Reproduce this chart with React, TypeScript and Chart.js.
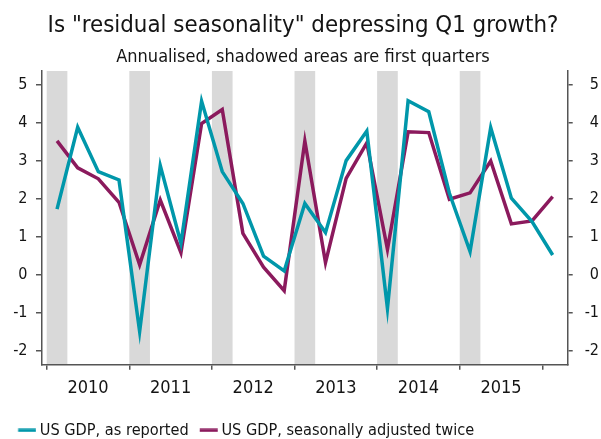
import React, { useEffect, useRef } from 'react';
import { Chart, registerables } from 'chart.js';

Chart.register(...registerables);

// ---- Data ----
const quarters = [
  '2010 Q1', '2010 Q2', '2010 Q3', '2010 Q4',
  '2011 Q1', '2011 Q2', '2011 Q3', '2011 Q4',
  '2012 Q1', '2012 Q2', '2012 Q3', '2012 Q4',
  '2013 Q1', '2013 Q2', '2013 Q3', '2013 Q4',
  '2014 Q1', '2014 Q2', '2014 Q3', '2014 Q4',
  '2015 Q1', '2015 Q2', '2015 Q3', '2015 Q4',
  '2016 Q1',
];
const asReported = [
  1.73, 3.89, 2.72, 2.5,
  -1.5, 2.88, 0.83, 4.58,
  2.72, 1.88, 0.49, 0.1,
  1.88, 1.11, 3.01, 3.79,
  -0.89, 4.59, 4.3, 2.15,
  0.61, 3.88, 2.02, 1.4,
  0.52,
];
const adjustedTwice = [
  3.53, 2.82, 2.53, 1.91,
  0.26, 1.97, 0.58, 3.99,
  4.36, 1.09, 0.2, -0.42,
  3.53, 0.32, 2.54, 3.48,
  0.67, 3.77, 3.75, 1.99,
  2.16, 3.0, 1.34, 1.42,
  2.06,
];
const yearLabels = ['2010', '2011', '2012', '2013', '2014', '2015'];
const shadedYears = [2010, 2011, 2012, 2013, 2014, 2015];
const yTickValues = [-2, -1, 0, 1, 2, 3, 4, 5];
const seriesNames = ['US GDP, as reported', 'US GDP, seasonally adjusted twice'];
const titleText = 'Is "residual seasonality" depressing Q1 growth?';
const subtitleText = 'Annualised, shadowed areas are first quarters';

// ---- Styles ----
const TEAL = '#0097aa';
const PURPLE = '#8b1a5d';
const SHADE = '#d9d9d9';
const AXIS = '#555555';
const TEXT = '#141414';
const FONT = "'DejaVu Sans Condensed', 'Liberation Sans Narrow', sans-serif";

const quarterToX = (q: string) => {
  const [y, qq] = q.split(' Q');
  return Number(y) + (Number(qq) - 0.5) / 4;
};

function legendMarker(color: string) {
  const c = document.createElement('canvas');
  c.width = 27;
  c.height = 4;
  const g = c.getContext('2d')!;
  g.fillStyle = color;
  g.fillRect(8.75, 0.35, 18, 3.3);
  return c;
}

const q1Shading = {
  id: 'q1Shading',
  beforeDraw(chart: any) {
    const { ctx, chartArea, scales } = chart;
    const x = scales.x;
    ctx.save();
    ctx.fillStyle = SHADE;
    for (const yr of shadedYears) {
      const x0 = x.getPixelForValue(yr);
      const x1 = x.getPixelForValue(yr + 0.25);
      ctx.fillRect(x0, chartArea.top, x1 - x0, chartArea.bottom - chartArea.top);
    }
    ctx.restore();
  },
};

export default function App() {
  const ref = useRef<HTMLCanvasElement | null>(null);

  useEffect(() => {
    if (!ref.current) return;
    const markers = [legendMarker(TEAL), legendMarker(PURPLE)];
    const yTicksBuilder = (s: any) => {
      s.ticks = yTickValues.map((v) => ({ value: v }));
    };
    const chart = new Chart(ref.current, {
      type: 'line',
      data: {
        datasets: [
          {
            label: seriesNames[0],
            data: quarters.map((q, i) => ({ x: quarterToX(q), y: asReported[i] })),
            borderColor: TEAL,
            backgroundColor: TEAL,
            borderWidth: 3.5,
            pointRadius: 0,
            tension: 0,
            fill: false,
          },
          {
            label: seriesNames[1],
            data: quarters.map((q, i) => ({ x: quarterToX(q), y: adjustedTwice[i] })),
            borderColor: PURPLE,
            backgroundColor: PURPLE,
            borderWidth: 3.5,
            pointRadius: 0,
            tension: 0,
            fill: false,
          },
        ],
      },
      options: {
        responsive: false,
        animation: false,
        events: [],
        layout: { padding: { left: 7, right: 2, top: 0, bottom: -9.5 } },
        plugins: {
          title: {
            display: true,
            text: titleText,
            color: TEXT,
            font: { family: FONT, size: 23.8, weight: 'normal' },
            padding: { top: 11.54, bottom: 0 },
          },
          subtitle: {
            display: true,
            text: subtitleText,
            color: TEXT,
            font: { family: FONT, size: 18, weight: 'normal' },
            padding: { top: 6.87, bottom: 2.43 },
          },
          legend: {
            display: true,
            position: 'bottom',
            align: 'start',
            labels: {
              usePointStyle: true,
              pointStyleWidth: 17.7,
              padding: 7,
              color: TEXT,
              font: { family: FONT, size: 16.2 },
              generateLabels: (c: any) =>
                c.data.datasets.map((ds: any, i: number) => ({
                  text: ds.label,
                  fillStyle: ds.borderColor,
                  strokeStyle: ds.borderColor,
                  lineWidth: 0,
                  pointStyle: markers[i],
                  hidden: false,
                  datasetIndex: i,
                  fontColor: TEXT,
                })),
            },
          },
          tooltip: { enabled: false },
        },
        scales: {
          x: {
            type: 'linear',
            position: 'bottom',
            min: 2009.943,
            max: 2016.307,
            afterBuildTicks: (s: any) => {
              s.ticks = yearLabels.map((y) => ({ value: Number(y) + 0.5 }));
            },
            afterFit: (s: any) => {
              s.height = 50.6;
            },
            ticks: {
              autoSkip: false,
              maxRotation: 0,
              minRotation: 0,
              padding: 7.57,
              color: TEXT,
              font: { family: FONT, size: 18 },
              callback: (_v: any, i: number) => yearLabels[i],
            },
            grid: {
              offset: true,
              drawOnChartArea: false,
              drawTicks: true,
              tickLength: 5,
              color: AXIS,
              lineWidth: 1.5,
            },
            border: { display: true, color: AXIS, width: 1.5 },
          },
          y: {
            type: 'linear',
            position: 'left',
            min: -2.375,
            max: 5.375,
            afterBuildTicks: yTicksBuilder,
            afterFit: (s: any) => {
              s.width = 35;
            },
            ticks: {
              padding: 8.5,
              crossAlign: 'near',
              color: TEXT,
              font: { family: FONT, size: 16 },
            },
            grid: {
              drawOnChartArea: false,
              drawTicks: true,
              tickLength: 6,
              color: AXIS,
              lineWidth: 1.5,
            },
            border: { display: true, color: AXIS, width: 1.5 },
          },
          y2: {
            type: 'linear',
            position: 'right',
            min: -2.375,
            max: 5.375,
            afterBuildTicks: yTicksBuilder,
            afterFit: (s: any) => {
              s.width = 31.3;
            },
            ticks: {
              padding: 4,
              crossAlign: 'far',
              color: TEXT,
              font: { family: FONT, size: 16 },
            },
            grid: {
              drawOnChartArea: false,
              drawTicks: true,
              tickLength: 5,
              color: AXIS,
              lineWidth: 1.5,
            },
            border: { display: true, color: AXIS, width: 1.5 },
          },
        },
      } as any,
      plugins: [q1Shading],
    });
    return () => chart.destroy();
  }, []);

  return (
    <div style={{ position: 'fixed', left: 0, top: 0, width: 601, height: 439, background: '#ffffff' }}>
      <canvas ref={ref} width={601} height={439} style={{ display: 'block', width: 601, height: 439 }} />
    </div>
  );
}
